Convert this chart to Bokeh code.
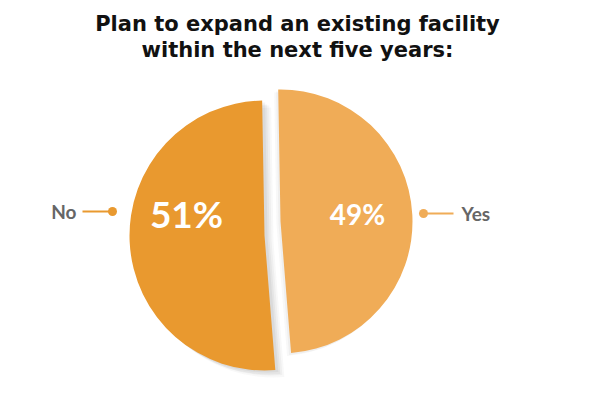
import math
from bokeh.plotting import figure
from bokeh.models import Range1d, ColumnDataSource
from bokeh.core.properties import value
from bokeh.embed import file_html
from bokeh.resources import INLINE

# ---- data ----
categories = ["No", "Yes"]
percents = [51, 49]
label_texts = ["51%", "49%"]
colors = ["#E9992F", "#F0AC57"]
title_lines = ["Plan to expand an existing facility", "within the next five years:"]

W, H = 584, 379
p = figure(width=W, height=H, output_backend="svg", toolbar_location=None,
           x_range=Range1d(0, 584), y_range=Range1d(16, 395),
           min_border=0, outline_line_color=None)
p.axis.visible = False
p.grid.visible = False
p.background_fill_color = "white"
p.border_fill_color = "white"

def Y(py):
    return 395 - py

# angles (degrees, anticlockwise) from data
top_angle = 91.0
yes_span = percents[1] / 100 * 360
no_span = percents[0] / 100 * 360
yes_start, yes_end = top_angle - yes_span, top_angle
no_start, no_end = top_angle, top_angle + no_span

# slice centers (exploded layout)
no_c = (264, Y(235))
no_r = 135
yes_c = (280, Y(221))
yes_r = 132

# shadow of the No slice
for (dx, dy, a) in [(9, -7, 0.04), (7, -5, 0.05), (5, -4, 0.06), (3, -2, 0.07)]:
    p.wedge(x=[no_c[0] + dx], y=[no_c[1] + dy], radius=no_r, start_angle=no_start,
            end_angle=no_end, start_angle_units="deg", end_angle_units="deg",
            fill_color="#555555", fill_alpha=a, line_color=None)
for (dx, dy, a) in [(-4, -3, 0.04), (-2, -2, 0.05)]:
    p.wedge(x=[yes_c[0] + dx], y=[yes_c[1] + dy], radius=yes_r, start_angle=yes_start,
            end_angle=yes_end, start_angle_units="deg", end_angle_units="deg",
            fill_color="#555555", fill_alpha=a, line_color=None)

src = ColumnDataSource(dict(
    x=[no_c[0], yes_c[0]], y=[no_c[1], yes_c[1]], r=[no_r, yes_r],
    start=[no_start, yes_start], end=[no_end, yes_end], color=colors,
    cat=categories))
p.wedge(x="x", y="y", radius="r", start_angle="start", end_angle="end",
        start_angle_units="deg", end_angle_units="deg",
        fill_color="color", line_color=None, source=src)

# percent labels
p.text(x=[186], y=[Y(213)], text=[label_texts[0]], text_color="white",
       text_font=value("Lato"), text_font_style="bold", text_font_size="37px",
       text_align="center", text_baseline="middle")
p.text(x=[357], y=[Y(213)], text=[label_texts[1]], text_color="white",
       text_font=value("Lato"), text_font_style="bold", text_font_size="28px",
       text_align="center", text_baseline="middle")

# category labels with leader lines
p.segment(x0=[82], y0=[Y(211)], x1=[111], y1=[Y(211)], line_color=colors[0], line_width=2)
p.scatter(x=[112], y=[Y(211)], size=9, fill_color=colors[0], line_color=None)
p.text(x=[76], y=[Y(211)], text=[categories[0]], text_color="#666666",
       text_font=value("Lato"), text_font_style="bold", text_font_size="19px",
       text_align="right", text_baseline="middle")

p.segment(x0=[423], y0=[Y(213)], x1=[453], y1=[Y(213)], line_color=colors[1], line_width=2)
p.scatter(x=[423], y=[Y(213)], size=9, fill_color=colors[1], line_color=None)
p.text(x=[461], y=[Y(213)], text=[categories[1]], text_color="#666666",
       text_font=value("Lato"), text_font_style="bold", text_font_size="19px",
       text_align="left", text_baseline="middle")

# title
p.text(x=[297, 297], y=[Y(23), Y(49)], text=title_lines, text_color="#111111",
       text_font=value("DejaVu Sans"), text_font_style="bold", text_font_size="21px",
       text_align="center", text_baseline="middle")

open("out.html", "w").write(file_html(p, INLINE))
